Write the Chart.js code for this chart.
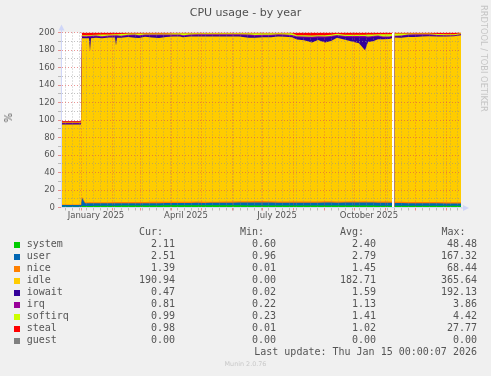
<!DOCTYPE html>
<html>
<head>
<meta charset="utf-8">
<script src="https://cdn.jsdelivr.net/npm/chart.js@4.4.1/dist/chart.umd.min.js"></script>
<style>
body { margin: 0; background: #f0f0f0; }
#wrap { position: relative; width: 491px; height: 376px; font-family: "DejaVu Sans"; color: #555; }
#wrap canvas { position: absolute; left: 0; top: 0; }
.t { position: absolute; white-space: pre; }
.mono { font-family: "DejaVu Sans Mono"; font-size: 10px; line-height: 12px; color: #555; }
.sq { position: absolute; width: 6px; height: 6px; }
</style>
</head>
<body>
<div id="wrap"><canvas id="myChart" width="491" height="376"></canvas></div>
<script>
// days counted from 12 Dec 2024, the graph covers 400 days
var days = [0,10,20,21,24,28,29,30,35,41, 48,54,55,56,60,67,74,78,84,91,
  98,105,112,119,122,129,136,143,150,157, 164,171,178,188,194,202,210,217,224,231,
  236,243,251,257,264,270,276,284,291,298, 304,307,312,317,322,328,331,332,333.5,340,
  347,354,361,368,377,385,393,400];

var system = [1.0,1.0,1.0,2.0,1.8,1.8,1.8,1.8,1.9,2.0, 2.0,2.1,2.1,2.1,2.2,2.2,2.3,2.3,2.3,2.4,
  2.4,2.5,2.5,2.5,2.5,2.6,2.6,2.6,2.6,2.5, 2.5,2.5,2.5,2.4,2.4,2.4,2.4,2.4,2.4,2.4,
  2.4,2.4,2.4,2.4,2.4,2.4,2.3,2.3,2.3,2.2, 2.2,2.2,2.2,2.1,2.1,2.1,2.1,null,2.0,2.0,
  2.0,2.0,2.1,2.1,2.1,2.1,2.1,2.11];
var user = [1.8,1.9,1.8,9.0,3.0,3.0,3.2,3.0,2.9,2.8, 2.8,2.8,2.9,2.8,2.7,2.7,2.6,2.6,2.7,2.6,
  2.6,2.6,2.7,2.7,2.6,2.6,2.7,2.6,2.7,2.8, 2.9,3.0,3.1,3.2,3.3,3.3,3.2,3.1,3.1,3.0,
  3.0,3.1,3.1,3.1,3.2,3.2,3.2,3.3,3.4,3.4, 3.5,3.4,3.4,3.4,3.3,3.3,3.3,null,3.2,3.1,
  3.0,3.0,2.9,2.8,2.7,2.6,2.6,2.51];
var nice = [0.7,0.6,0.7,1.2,1.2,1.2,1.2,1.2,1.3,1.3, 1.3,1.3,1.3,1.3,1.4,1.4,1.4,1.4,1.4,1.5,
  1.5,1.5,1.5,1.5,1.5,1.5,1.5,1.5,1.4,1.4, 1.4,1.5,1.5,1.6,1.7,1.7,1.6,1.5,1.5,1.5,
  1.5,1.5,1.5,1.5,1.5,1.5,1.4,1.4,1.4,1.4, 1.4,1.4,1.4,1.4,1.4,1.4,1.4,null,1.4,1.4,
  1.4,1.4,1.4,1.4,1.4,1.4,1.4,1.39];
var idle = [91.5,91.4,91.5,181.3,187.4,187.3,172.7,187.4,187.9,187.3, 188.1,188.0,178.9,187.9,187.6,188.6,187.8,187.4,188.8,187.9,
  187.3,188.4,188.7,188.6,187.9,188.7,188.7,188.7,188.8,188.8, 188.6,188.4,188.2,186.9,186.5,187.3,187.4,188.3,188.2,187.6,
  185.1,184.2,181.5,184.4,181.6,183.3,187.0,184.8,182.6,180.7, 172.6,182.2,182.9,185.4,185.6,185.8,186.5,null,187.6,187.6,
  188.6,188.6,189.0,189.5,189.2,189.3,189.5,190.94];
var iowait = [1.0,1.1,1.0,1.5,1.4,1.6,16.0,1.8,1.4,1.3, 1.3,1.5,10.5,1.6,1.4,1.5,2.5,2.2,1.4,2.2,
  2.8,1.6,1.3,1.4,1.4,1.3,1.3,1.4,1.3,1.3, 1.4,1.4,1.5,2.6,2.2,1.6,1.6,1.5,1.5,1.5,
  2.5,3.0,5.5,3.0,5.5,4.5,2.0,3.0,5.0,7.0, 15.0,5.0,5.0,3.0,2.0,1.8,1.6,null,1.2,1.5,
  1.8,1.9,1.6,1.2,0.9,0.8,0.6,0.47];
var irq = [0.6,0.6,0.6,1.0,1.0,1.0,1.0,1.0,1.1,1.1, 1.1,1.1,1.1,1.1,1.1,1.1,1.1,1.1,1.1,1.1,
  1.1,1.1,1.1,1.1,1.1,1.1,1.1,1.1,1.1,1.1, 1.1,1.1,1.1,1.1,1.1,1.1,1.1,1.1,1.1,1.1,
  1.1,1.2,1.2,1.2,1.2,1.2,1.2,1.2,1.2,1.2, 1.2,1.2,1.2,1.2,1.1,1.1,1.1,null,1.0,1.0,
  1.0,1.0,0.9,0.9,0.9,0.8,0.8,0.81];
var softirq = [0.6,0.6,0.6,1.0,1.0,1.1,1.1,1.0,1.0,2.0, 1.2,1.2,1.2,1.2,2.0,1.3,1.3,2.0,1.3,1.3,
  1.3,1.3,1.3,1.3,2.1,1.3,1.3,1.3,1.3,1.3, 1.3,1.3,1.3,1.4,2.0,1.8,1.9,1.3,1.3,2.0,
  1.4,1.4,1.4,1.4,1.4,1.4,1.4,1.5,1.5,1.5, 1.5,2.2,1.5,1.5,2.5,2.5,2.2,null,2.6,2.4,
  1.2,1.1,1.1,1.0,1.0,1.0,1.0,0.99];
var steal = [1.3,1.3,1.3,3.0,3.2,3.0,3.0,2.8,2.5,2.2, 2.2,2.0,2.0,2.0,1.6,1.2,1.0,1.0,1.0,1.0,
  1.0,1.0,0.9,0.9,0.9,0.9,0.8,0.8,0.8,0.8, 0.8,0.8,0.8,0.8,0.8,0.8,0.8,0.8,0.9,0.9,
  3.0,3.2,3.4,3.0,3.2,2.5,1.5,2.5,2.6,2.6, 2.6,2.4,2.4,2.0,2.0,2.0,1.8,null,1.0,1.0,
  1.0,1.0,1.0,1.1,1.8,2.0,2.0,0.98];
var guest = [0,0,0,0,0,0,0,0,0,0, 0,0,0,0,0,0,0,0,0,0,
  0,0,0,0,0,0,0,0,0,0, 0,0,0,0,0,0,0,0,0,0,
  0,0,0,0,0,0,0,0,0,0, 0,0,0,0,0,0,0,null,0,0,
  0,0,0,0,0,0,0,0];

var seriesNames = ['system','user','nice','idle','iowait','irq','softirq','steal','guest'];
var seriesColors = ['#00CC00','#0066B3','#FF8000','#FFCC00','#330099','#990099','#CCFF00','#FF0000','#808080'];
var seriesData = [system, user, nice, idle, iowait, irq, softirq, steal, guest];

var curVals = [2.11, 2.51, 1.39, 190.94, 0.47, 0.81, 0.99, 0.98, 0.00];
var minVals = [0.60, 0.96, 0.01, 0.00, 0.02, 0.22, 0.23, 0.01, 0.00];
var avgVals = [2.40, 2.79, 1.45, 182.71, 1.59, 1.13, 1.41, 1.02, 0.00];
var maxVals = [48.48, 167.32, 68.44, 365.64, 192.13, 3.86, 4.42, 27.77, 0.00];

// x grid: month starts (major) and mondays (minor), labels mid month
var monthStarts = [20,51,79,110,140,171,201,232,263,293,324,354,385];
var monthLabels = ['January 2025','April 2025','July 2025','October 2025'];
var labelDays = [35,125,216,308];
var yTicks = [0,10,20,30,40,50,60,70,80,90,100,110,120,130,140,150,160,170,180,190,200];

var MAJOR = 'rgba(222,79,79,0.6)';
var MINOR = 'rgba(143,143,143,0.55)';
var AXIS = '#CFD6F8';
var tickFont = { family: 'DejaVu Sans', size: 8.5 };

var gridDays = monthStarts.slice();
for (var d = 4; d < 400; d += 7) {
  if (gridDays.indexOf(d) < 0) gridDays.push(d);
}

var datasets = seriesNames.map(function (n, i) {
  return {
    label: n,
    data: seriesData[i],
    backgroundColor: seriesColors[i],
    borderColor: seriesColors[i],
    borderWidth: 0,
    pointRadius: 0,
    fill: 'origin',
    tension: 0,
    spanGaps: false
  };
});

/* background colours for the page and the plot area */
var canvasBg = {
  id: 'canvasBg',
  beforeDraw: function (chart) {
    var c = chart.ctx, a = chart.chartArea;
    c.save();
    c.fillStyle = '#f0f0f0';
    c.fillRect(0, 0, chart.width, chart.height);
    c.fillStyle = '#ffffff';
    c.fillRect(a.left, a.top, a.right - a.left, a.bottom - a.top);
    c.restore();
  }
};

/* rrdtool style arrows at the end of both axes */
var arrows = {
  id: 'arrows',
  afterDraw: function (chart) {
    var c = chart.ctx, a = chart.chartArea;
    c.save();
    c.strokeStyle = AXIS;
    c.fillStyle = AXIS;
    c.lineWidth = 1;
    c.beginPath();
    c.moveTo(a.left + 0.5, a.top);
    c.lineTo(a.left + 0.5, a.top - 4);
    c.moveTo(a.right, a.bottom + 0.5);
    c.lineTo(a.right + 3, a.bottom + 0.5);
    c.stroke();
    c.beginPath();
    c.moveTo(a.left + 0.5, a.top - 8);
    c.lineTo(a.left - 2.5, a.top - 2);
    c.lineTo(a.left + 3.5, a.top - 2);
    c.closePath();
    c.fill();
    c.beginPath();
    c.moveTo(a.right + 8, a.bottom + 0.5);
    c.lineTo(a.right + 2, a.bottom - 2.5);
    c.lineTo(a.right + 2, a.bottom + 3.5);
    c.closePath();
    c.fill();
    c.restore();
  }
};

const config = {
  type: 'line',
  data: { labels: days, datasets: datasets },
  plugins: [canvasBg, arrows],
  options: {
    responsive: false,
    devicePixelRatio: 1,
    animation: false,
    layout: { padding: { left: 0, top: 32.5, right: 30, bottom: 148.5 } },
    plugins: { legend: { display: false }, tooltip: { enabled: false }, title: { display: false } },
    scales: {
      x: {
        type: 'linear', min: 0, max: 400,
        afterBuildTicks: function (s) { s.ticks = gridDays.map(function (v) { return { value: v }; }); },
        afterFit: function (s) { s.height = 0; },
        ticks: { display: false },
        grid: {
          color: function (c) { return monthStarts.indexOf(c.tick.value) >= 0 ? MAJOR : MINOR; },
          tickLength: 3, z: 1
        },
        border: { color: AXIS, dash: [1, 2], z: 2 }
      },
      x2: {
        type: 'linear', position: 'bottom', min: 0, max: 400,
        afterBuildTicks: function (s) { s.ticks = labelDays.map(function (v) { return { value: v }; }); },
        afterFit: function (s) { s.height = 20; },
        grid: { display: false, drawTicks: false },
        border: { display: false },
        ticks: {
          autoSkip: false, maxRotation: 0, padding: 3, font: tickFont, color: '#555',
          callback: function (v, i) { return monthLabels[i]; }
        }
      },
      y: {
        stacked: true, min: 0, max: 200,
        afterBuildTicks: function (s) { s.ticks = yTicks.map(function (v) { return { value: v }; }); },
        afterFit: function (s) { s.width = 61; },
        ticks: {
          autoSkip: false, padding: 3, font: tickFont, color: '#555',
          callback: function (v) { return v % 20 === 0 ? v : ''; }
        },
        grid: {
          color: function (c) { return c.tick.value % 20 === 0 ? MAJOR : MINOR; },
          tickLength: 3, z: 1
        },
        border: { color: AXIS, dash: [1, 2], z: 2 }
      }
    }
  }
};

var myChart = new Chart(document.getElementById('myChart'), config);

/* texts around the graph */
var wrap = document.getElementById('wrap');
function addText(txt, css, cls) {
  var el = document.createElement('div');
  el.className = 't' + (cls ? ' ' + cls : '');
  el.textContent = txt;
  el.style.cssText += css;
  wrap.appendChild(el);
  return el;
}

addText('CPU usage - by year', 'left:0;width:491px;top:6.4px;text-align:center;font-size:11px;line-height:13px;color:#505050;');
addText('%', 'left:4px;top:113px;font-size:10px;line-height:10px;writing-mode:vertical-rl;transform:rotate(180deg);');
addText('RRDTOOL / TOBI OETIKER', 'left:479px;top:5px;font-size:8.3px;line-height:10px;writing-mode:vertical-rl;color:#c4c4c4;');

addText('Cur:', 'left:139px;top:225.5px;', 'mono');
addText('Min:', 'left:240px;top:225.5px;', 'mono');
addText('Avg:', 'left:340px;top:225.5px;', 'mono');
addText('Max:', 'left:441.5px;top:225.5px;', 'mono');

seriesNames.forEach(function (n, i) {
  var top = 237.8 + i * 12;
  var sq = document.createElement('div');
  sq.className = 'sq';
  sq.style.left = '14px';
  sq.style.top = (242.3 + i * 12) + 'px';
  sq.style.background = seriesColors[i];
  wrap.appendChild(sq);
  addText(n, 'left:26.7px;top:' + top + 'px;', 'mono');
  addText(curVals[i].toFixed(2), 'right:' + (491 - 175) + 'px;top:' + top + 'px;', 'mono');
  addText(minVals[i].toFixed(2), 'right:' + (491 - 276) + 'px;top:' + top + 'px;', 'mono');
  addText(avgVals[i].toFixed(2), 'right:' + (491 - 376) + 'px;top:' + top + 'px;', 'mono');
  addText(maxVals[i].toFixed(2), 'right:' + (491 - 477) + 'px;top:' + top + 'px;', 'mono');
});

addText('Last update: Thu Jan 15 00:00:07 2026', 'right:' + (491 - 477) + 'px;top:345.5px;', 'mono');
addText('Munin 2.0.76', 'left:0;width:491px;text-align:center;top:360px;font-size:6.4px;line-height:8px;color:#c8c8c8;');
</script>
</body>
</html>
